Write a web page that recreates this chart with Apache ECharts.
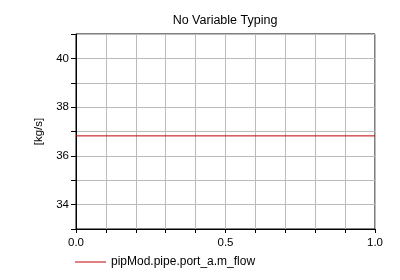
<!DOCTYPE html>
<html><head><meta charset="utf-8">
<script src="https://cdn.jsdelivr.net/npm/echarts@6/dist/echarts.min.js"></script>
<style>html,body{margin:0;padding:0;background:#fff}#c{width:400px;height:280px}</style>
</head><body><div id="c"></div>
<script>
const title = 'No Variable Typing';
const seriesName = 'pipMod.pipe.port_a.m_flow';
const yUnit = '[kg/s]';
const timeValues = [0, 1];
const flowValues = [36.82, 36.82];
const xLabels = [0, 0.5, 1];
const yLabels = [34, 36, 38, 40];

const FONT = 'Liberation Sans';
const chart = echarts.init(document.getElementById('c'), null, {renderer: 'canvas'});
chart.setOption({
  animation: false,
  backgroundColor: '#fff',
  textStyle: {fontFamily: FONT},
  title: {text: title, left: 220, top: 9, textAlign: 'center',
    textStyle: {fontFamily: FONT, fontSize: 12.5, fontWeight: 'normal', color: '#000'}},
  grid: {left: 76, right: 25, top: 34, bottom: 51, show: true, borderColor: '#000', borderWidth: 1, backgroundColor: '#fff'},
  legend: {left: 70, top: 251, icon: 'rect', itemWidth: 31, itemHeight: 1, itemGap: 8,
    textStyle: {fontFamily: FONT, fontSize: 12, color: '#000'}, data: [seriesName]},
  xAxis: {type: 'value', min: 0, max: 1, interval: 0.1,
    axisLine: {lineStyle: {color: '#000'}},
    axisTick: {show: true, inside: false, length: 4, lineStyle: {color: '#000'}},
    splitLine: {show: true, lineStyle: {color: '#bbb'}},
    axisLabel: {color: '#000', fontSize: 11.5, fontFamily: FONT, margin: 8,
      formatter: v => xLabels.some(l => Math.abs(l - v) < 1e-9) ? v.toFixed(1) : ''}},
  yAxis: {type: 'value', min: 33, max: 41, interval: 1,
    name: yUnit, nameLocation: 'middle', nameGap: 31, nameRotate: 90,
    nameTextStyle: {color: '#000', fontSize: 11.5, fontFamily: FONT},
    axisLine: {lineStyle: {color: '#000'}},
    axisTick: {show: true, inside: false, length: 5, lineStyle: {color: '#000'}},
    splitLine: {show: true, lineStyle: {color: '#bbb'}},
    axisLabel: {color: '#000', fontSize: 11.5, fontFamily: FONT, margin: 7,
      formatter: v => yLabels.includes(v) ? String(v) : ''}},
  series: [{name: seriesName, type: 'line', data: timeValues.map((t, i) => [t, flowValues[i]]),
    showSymbol: false, lineStyle: {color: '#c00000', width: 1}, itemStyle: {color: '#c00000'}}]
});
</script></body></html>
